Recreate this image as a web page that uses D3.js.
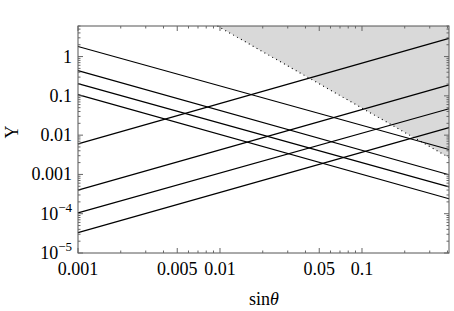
<!DOCTYPE html>
<html>
<head>
<meta charset="utf-8">
<script src="https://cdn.jsdelivr.net/npm/d3@7"></script>
<style>
  body { margin: 0; background: #fff; }
  text { font-family: "Liberation Serif", "DejaVu Serif", serif; }
</style>
</head>
<body>
<svg width="454" height="311"></svg>
<script>
// x range of every line (left and right plot edge)
var xEnds = [0.001, 0.41];
// falling lines: value at left edge / right edge
var fallLeft = [1.8, 0.44, 0.205, 0.107];
var fallRight = [0.0043, 0.00098, 0.00048, 0.00024];
// rising lines
var riseLeft = [0.006, 0.0004, 0.000105, 0.000033];
var riseRight = [2.9, 0.19, 0.047, 0.0155];
// edge of the shaded (excluded) region
var edgeX = [0.0096, 0.41];
var edgeY = [6, 0.0027];

var xMajor = [0.001, 0.005, 0.01, 0.05, 0.1];
var xMajorLabels = ["0.001", "0.005", "0.01", "0.05", "0.1"];
var yMajor = [1e-5, 1e-4, 1e-3, 0.01, 0.1, 1];
var yMajorLabels = [["10", "\u22125"], ["10", "\u22124"], ["0.001"], ["0.01"], ["0.1"], ["1"]];

var svg = d3.select("svg"),
    margin = {top: 26, right: 5, bottom: 58, left: 78},
    width = +svg.attr("width") - margin.left - margin.right,
    height = +svg.attr("height") - margin.top - margin.bottom,
    g = svg.append("g").attr("transform", "translate(" + margin.left + "," + margin.top + ")");

var x = d3.scaleLog().domain([0.001, 0.41]).range([0, width]);
var y = d3.scaleLog().domain([1e-5, 6]).range([height, 0]);

// minor ticks: 2..9 times each decade
function minors(lo, hi) {
  var out = [];
  for (var e = -6; e <= 1; e++) {
    for (var k = 1; k <= 9; k++) {
      var v = k * Math.pow(10, e);
      if (v >= lo * 0.999 && v <= hi * 1.001) out.push(v);
    }
  }
  return out;
}
var xMinor = minors(0.001, 0.41).filter(function (v) { return xMajor.indexOf(v) < 0; });
var yMinor = minors(1e-5, 6).filter(function (v) { return yMajor.indexOf(v) < 0; });

// shaded region
var line = d3.line().x(function (d) { return x(d[0]); }).y(function (d) { return y(d[1]); });
var region = [[edgeX[0], edgeY[0]], [edgeX[1], edgeY[1]], [0.41, 6]];
g.append("path")
  .attr("d", line(region) + "Z")
  .attr("fill", "#d9d9d9");
g.append("path")
  .attr("d", line([[edgeX[0], edgeY[0]], [edgeX[1], edgeY[1]]]))
  .attr("fill", "none")
  .attr("stroke", "#000")
  .attr("stroke-width", 1.1)
  .attr("stroke-dasharray", "1,3.5");

// the lines
var series = [];
fallLeft.forEach(function (v, i) { series.push([[xEnds[0], v], [xEnds[1], fallRight[i]]]); });
riseLeft.forEach(function (v, i) { series.push([[xEnds[0], v], [xEnds[1], riseRight[i]]]); });

g.selectAll(".series")
  .data(series)
  .enter().append("path")
  .attr("class", "series")
  .attr("d", line)
  .attr("fill", "none")
  .attr("stroke", "#000")
  .attr("stroke-width", 1.2);

// frame
g.append("rect")
  .attr("width", width)
  .attr("height", height)
  .attr("fill", "none")
  .attr("stroke", "#555")
  .attr("stroke-width", 1);

// inward ticks on all four sides
var tickColor = "#666";
function xTicks(vals, len) {
  vals.forEach(function (v) {
    g.append("line").attr("x1", x(v)).attr("x2", x(v)).attr("y1", height).attr("y2", height - len)
      .attr("stroke", tickColor);
    g.append("line").attr("x1", x(v)).attr("x2", x(v)).attr("y1", 0).attr("y2", len)
      .attr("stroke", tickColor);
  });
}
function yTicks(vals, len) {
  vals.forEach(function (v) {
    g.append("line").attr("x1", 0).attr("x2", len).attr("y1", y(v)).attr("y2", y(v))
      .attr("stroke", tickColor);
    g.append("line").attr("x1", width).attr("x2", width - len).attr("y1", y(v)).attr("y2", y(v))
      .attr("stroke", tickColor);
  });
}
xTicks(xMajor, 5);
xTicks(xMinor, 2.5);
yTicks(yMajor, 5);
yTicks(yMinor, 2.5);

// tick labels
g.selectAll(".xlab")
  .data(xMajor)
  .enter().append("text")
  .attr("class", "xlab")
  .attr("x", function (d) { return x(d); })
  .attr("y", height + 22)
  .attr("text-anchor", "middle")
  .attr("font-size", "18px")
  .text(function (d, i) { return xMajorLabels[i]; });

var ylab = g.selectAll(".ylab")
  .data(yMajor)
  .enter().append("text")
  .attr("class", "ylab")
  .attr("x", -6)
  .attr("y", function (d) { return y(d) + 6; })
  .attr("text-anchor", "end")
  .attr("font-size", "18px");
ylab.each(function (d, i) {
  var t = d3.select(this), parts = yMajorLabels[i];
  t.append("tspan").text(parts[0]);
  if (parts.length > 1) {
    t.append("tspan").attr("dy", -8).attr("font-size", "13px").text(parts[1]);
  }
});

// axis titles
var xt = svg.append("text")
  .attr("x", 264)
  .attr("y", 305)
  .attr("text-anchor", "middle")
  .attr("font-size", "18px");
xt.append("tspan").text("sin");
xt.append("tspan").attr("font-style", "italic").text("\u03b8");

svg.append("text")
  .attr("transform", "translate(18,132) rotate(-90)")
  .attr("text-anchor", "middle")
  .attr("font-size", "18px")
  .text("Y");
</script>
</body>
</html>
